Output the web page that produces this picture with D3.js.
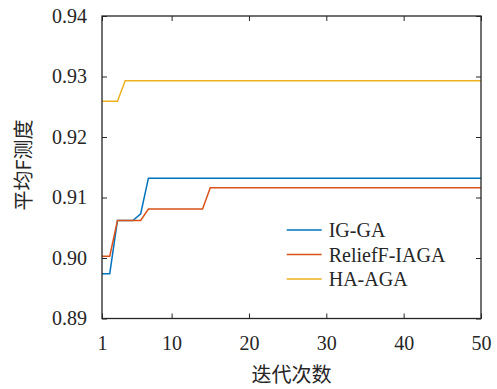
<!DOCTYPE html>
<html>
<head>
<meta charset="utf-8">
<script src="https://cdn.jsdelivr.net/npm/d3@7"></script>
<style>
  body { margin: 0; background: #fff; }
  text { font-family: "Liberation Serif", serif; fill: #262626; }
</style>
</head>
<body>
<script>
// iterations 1..50
const iterations = d3.range(1, 51);
const seriesNames = ['IG-GA', 'ReliefF-IAGA', 'HA-AGA'];
const seriesColors = ['#0072BD', '#D95319', '#EDB120'];

// values, step changes only
const igGA = iterations.map(i => i <= 2 ? 0.8974 : i <= 5 ? 0.9062 : i === 6 ? 0.9073 : 0.9132);
const reliefIAGA = iterations.map(i => i <= 2 ? 0.9003 : i <= 6 ? 0.9062 : i <= 14 ? 0.9081 : 0.9116);
const haAGA = iterations.map(i => i <= 3 ? 0.9259 : 0.9293);

const xTicks = [1, 10, 20, 30, 40, 50];
const yTicks = [0.89, 0.90, 0.91, 0.92, 0.93, 0.94];

const width = 497, height = 389;
const margin = { top: 16, right: 16, bottom: 71, left: 102 };
const chartWidth = 481 - margin.left;
const chartHeight = 318.5 - margin.top;

const svg = d3.select('body').append('svg')
  .attr('width', width)
  .attr('height', height);

const x = d3.scaleLinear().domain([1, 50]).range([0, chartWidth]);
const y = d3.scaleLinear().domain([0.89, 0.94]).range([chartHeight, 0]);

const g = svg.append('g')
  .attr('transform', `translate(${margin.left},${margin.top})`);

// lines
const line = d3.line()
  .x((d, i) => x(iterations[i]))
  .y(d => y(d));

[igGA, reliefIAGA, haAGA].forEach((vals, k) => {
  g.append('path')
    .datum(vals)
    .attr('fill', 'none')
    .attr('stroke', seriesColors[k])
    .attr('stroke-width', 1.5)
    .attr('d', line);
});

// axes, ticks inward, mirrored on top/right
const tickStyle = sel => {
  sel.attr('font-family', '"Liberation Serif", serif').attr('font-size', 20);
  sel.select('.domain').remove();
  sel.selectAll('.tick line').attr('stroke', '#262626').attr('stroke-width', 1);
  sel.selectAll('.tick text').attr('fill', '#262626');
};

g.append('g')
  .attr('transform', `translate(0,${chartHeight})`)
  .call(d3.axisBottom(x).tickValues(xTicks).tickSize(-5).tickPadding(17).tickFormat(d3.format('d')))
  .call(tickStyle);

g.append('g')
  .call(d3.axisLeft(y).tickValues(yTicks).tickSize(-5).tickPadding(15).tickFormat(d3.format('.2f')))
  .call(tickStyle);

g.append('g')
  .call(d3.axisTop(x).tickValues(xTicks).tickSize(-5).tickFormat(''))
  .call(tickStyle);

g.append('g')
  .attr('transform', `translate(${chartWidth},0)`)
  .call(d3.axisRight(y).tickValues(yTicks).tickSize(-5).tickFormat(''))
  .call(tickStyle);

g.append('rect')
  .attr('width', chartWidth)
  .attr('height', chartHeight)
  .attr('fill', 'none')
  .attr('stroke', '#262626')
  .attr('stroke-width', 1.3);

// axis titles
svg.append('text')
  .attr('x', margin.left + chartWidth / 2)
  .attr('y', 382)
  .attr('text-anchor', 'middle')
  .style('font-family', '"Noto Sans CJK SC", serif')
  .style('font-size', '20px')
  .text('迭代次数');

svg.append('text')
  .attr('transform', 'translate(31,165) rotate(-90)')
  .attr('text-anchor', 'middle')
  .style('font-family', '"Noto Sans CJK SC", serif')
  .style('font-size', '20px')
  .text('平均F测度');

// legend
const legend = g.append('g')
  .attr('transform', `translate(${286.7 - margin.left},${230 - margin.top})`);

seriesNames.forEach((name, k) => {
  const row = legend.append('g').attr('transform', `translate(0,${k * 24.5})`);
  row.append('line')
    .attr('x1', 0).attr('x2', 35)
    .attr('stroke', seriesColors[k])
    .attr('stroke-width', 1.5);
  row.append('text')
    .attr('x', 42)
    .attr('dy', '0.35em')
    .style('font-size', '20px')
    .text(name);
});
</script>
</body>
</html>
